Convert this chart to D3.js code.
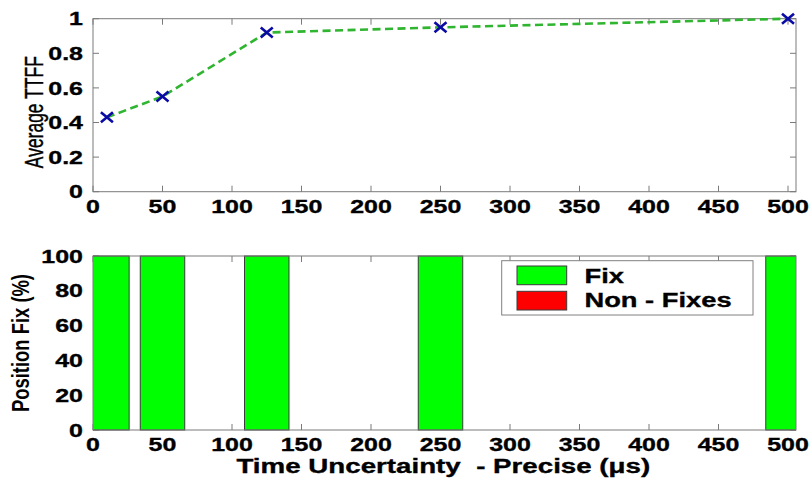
<!DOCTYPE html>
<html>
<head>
<meta charset="utf-8">
<script src="https://cdn.jsdelivr.net/npm/d3@7/dist/d3.min.js"></script>
<style>
  html, body { margin: 0; padding: 0; background: #ffffff; }
  svg { display: block; }
  text { font-family: "Liberation Sans", Arial, Helvetica, sans-serif; fill: #000; }
</style>
</head>
<body>
<div id="chart"></div>
<script>
// ---------------- data ----------------
const uncertainty = [10, 50, 125, 250, 500];          // time uncertainty (µs)
const avgTTFF = [0.43, 0.55, 0.92, 0.95, 1.0];         // normalised average TTFF
const fixPct = [100, 100, 100, 100, 100];              // position fix (%)
const nonFixPct = [0, 0, 0, 0, 0];                     // non-fixes (%)
const xTicks = [0, 50, 100, 150, 200, 250, 300, 350, 400, 450, 500];
const yTicksTop = [0, 0.2, 0.4, 0.6, 0.8, 1];
const yTicksBottom = [0, 20, 40, 60, 80, 100];
const seriesNames = ["Fix", "Non - Fixes"];
const seriesColors = ["#00ff00", "#ff0000"];
const xLabel = "Time Uncertainty  - Precise (\u03bcs)";
const yLabelTop = "Average TTFF";
const yLabelBottom = "Position Fix (%)";

// ---------------- layout ----------------
const W = 812, H = 479;
const SX = 1.35;           // horizontal stretch of the text in the original
const left = 93, right = 796;
const top1 = 18.7, bot1 = 191.7;
const top2 = 256, bot2 = 430;
const xMax = 500 * (right - left) / (788 - left);

const svg = d3.select("#chart").append("svg").attr("width", W).attr("height", H);

const x = d3.scaleLinear().domain([0, xMax]).range([left, right]);
const yTop = d3.scaleLinear().domain([0, 1]).range([bot1, top1]);
const yBot = d3.scaleLinear().domain([0, 100]).range([bot2, top2]);

const axisColor = "#7a7a7a";
const tickLen = 6;
const tickFont = 18.5;

function stretchedText(g, px, py, str, opts) {
  const t = g.append("text")
    .attr("transform", `translate(${px},${py}) scale(${opts.sx || SX},1)`)
    .attr("text-anchor", opts.anchor || "middle")
    .attr("font-size", opts.size || tickFont)
    .attr("font-weight", opts.weight || "bold")
    .attr("stroke", "#000").attr("stroke-width", 0.35)
    .style("white-space", "pre")
    .text(str);
  return t;
}

function drawTicks(g, yScale, yTicks, yt, yb) {
  g.selectAll(null).data(xTicks).enter().append("line")
    .attr("x1", d => x(d)).attr("x2", d => x(d))
    .attr("y1", yb).attr("y2", yb - tickLen)
    .attr("stroke", axisColor).attr("stroke-width", 1);
  g.selectAll(null).data(xTicks).enter().append("line")
    .attr("x1", d => x(d)).attr("x2", d => x(d))
    .attr("y1", yt).attr("y2", yt + tickLen)
    .attr("stroke", axisColor).attr("stroke-width", 1);
  g.selectAll(null).data(yTicks).enter().append("line")
    .attr("x1", left).attr("x2", left + tickLen)
    .attr("y1", d => yScale(d)).attr("y2", d => yScale(d))
    .attr("stroke", axisColor).attr("stroke-width", 1);
  g.selectAll(null).data(yTicks).enter().append("line")
    .attr("x1", right).attr("x2", right - tickLen)
    .attr("y1", d => yScale(d)).attr("y2", d => yScale(d))
    .attr("stroke", axisColor).attr("stroke-width", 1);
}

function drawBox(g, yt, yb) {
  g.append("rect").attr("x", left).attr("y", yt)
    .attr("width", right - left).attr("height", yb - yt)
    .attr("fill", "none").attr("stroke", axisColor).attr("stroke-width", 1);
}

function drawTickLabels(g, yScale, yTicks, yb, fmt) {
  xTicks.forEach(d => stretchedText(g, x(d), yb + 21, String(d), {}));
  yTicks.forEach(d => stretchedText(g, left - 10, yScale(d) + 6.6, fmt(d), { anchor: "end" }));
}

// ---------------- top panel ----------------
const gTop = svg.append("g");
drawTicks(gTop, yTop, yTicksTop, top1, bot1);
drawBox(gTop, top1, bot1);
drawTickLabels(gTop, yTop, yTicksTop, bot1, d => String(d));

const pts = uncertainty.map((u, i) => [u, avgTTFF[i]]);
gTop.append("path")
  .datum(pts)
  .attr("fill", "none")
  .attr("stroke", "#2fb52f")
  .attr("stroke-width", 2.6)
  .attr("stroke-dasharray", "8,4.5")
  .attr("d", d3.line().x(d => x(d[0])).y(d => yTop(d[1])));

const mk = gTop.selectAll(null).data(pts).enter().append("g")
  .attr("transform", d => `translate(${x(d[0])},${yTop(d[1])})`);
mk.append("path")
  .attr("d", "M-6,-5L6,5M-6,5L6,-5")
  .attr("stroke", "#0a0aa5").attr("stroke-width", 2.6).attr("fill", "none");

// y label top
svg.append("text")
  .attr("transform", `translate(43,${(top1 + bot1) / 2 + 7}) scale(${SX},1) rotate(-90)`)
  .attr("text-anchor", "middle")
  .attr("font-size", 18.5)
  .attr("stroke", "#000").attr("stroke-width", 0.3)
  .attr("textLength", 112).attr("lengthAdjust", "spacingAndGlyphs")
  .text(yLabelTop);

// ---------------- bottom panel ----------------
const gBot = svg.append("g");
drawTicks(gBot, yBot, yTicksBottom, top2, bot2);

svg.append("clipPath").attr("id", "clipBot")
  .append("rect").attr("x", left).attr("y", top2 - 2)
  .attr("width", right - left).attr("height", bot2 - top2 + 4);

const minGap = d3.min(d3.pairs(uncertainty), p => p[1] - p[0]);
const barW = 0.8 * minGap;
const stacked = uncertainty.map((u, i) => ({ u, fix: fixPct[i], non: nonFixPct[i] }));
const stack = d3.stack().keys(["fix", "non"])(stacked);

const gBars = gBot.append("g").attr("clip-path", "url(#clipBot)");
stack.forEach((layer, li) => {
  gBars.selectAll(null).data(layer.filter(d => d[1] - d[0] > 0)).enter().append("rect")
    .attr("x", d => x(d.data.u - barW / 2))
    .attr("width", d => x(d.data.u + barW / 2) - x(d.data.u - barW / 2))
    .attr("y", d => yBot(d[1]))
    .attr("height", d => yBot(d[0]) - yBot(d[1]))
    .attr("fill", seriesColors[li])
    .attr("stroke", "#3a3a3a").attr("stroke-width", 1);
});

drawBox(gBot, top2, bot2);
drawTickLabels(gBot, yBot, yTicksBottom, bot2, d => String(d));

// legend
const lg = gBot.append("g");
lg.append("rect").attr("x", 501.7).attr("y", 260.7).attr("width", 251.3).attr("height", 54.3)
  .attr("fill", "#fff").attr("stroke", "#808080").attr("stroke-width", 1);
seriesNames.forEach((name, i) => {
  lg.append("rect").attr("x", 517).attr("y", 266 + i * 25.3)
    .attr("width", 49.7).attr("height", 18.7)
    .attr("fill", seriesColors[i]).attr("stroke", "#3a3a3a").attr("stroke-width", 1);
  stretchedText(lg, 584.5, 282.7 + i * 24, name, { anchor: "start", size: 21, sx: 1.3 });
});

// y label bottom
svg.append("text")
  .attr("transform", `translate(29,${(top2 + bot2) / 2}) scale(${SX},1) rotate(-90)`)
  .attr("text-anchor", "middle")
  .attr("font-size", 17.5)
  .attr("font-weight", "bold")
  .attr("textLength", 138).attr("lengthAdjust", "spacingAndGlyphs")
  .text(yLabelBottom);

// x label
stretchedText(svg, 443.3, 472.5, xLabel, { size: 21, sx: 1.32 });
</script>
</body>
</html>
